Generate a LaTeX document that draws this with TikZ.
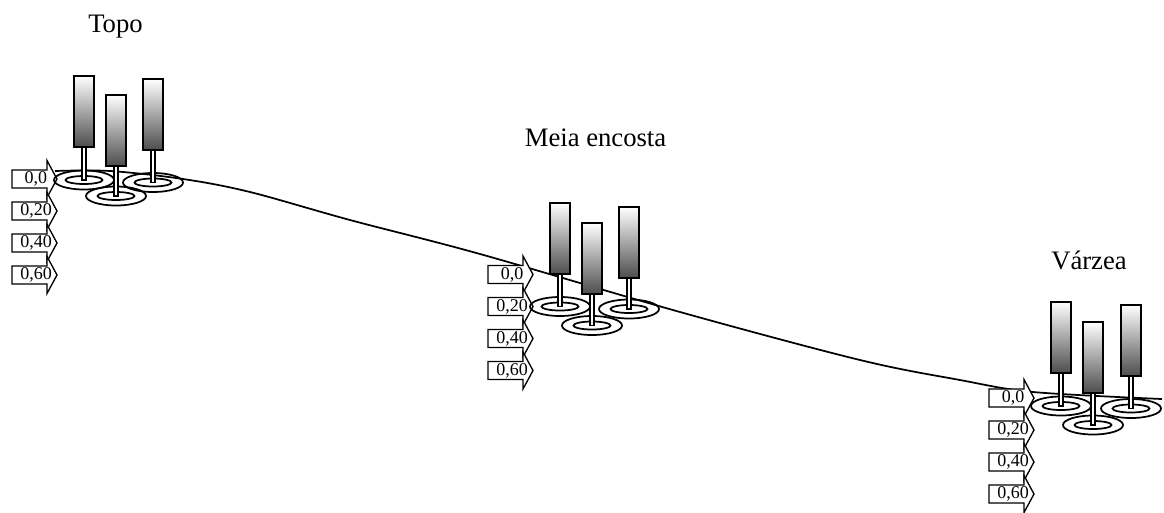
\documentclass[tikz,border=0pt]{standalone}
\usepackage{fontspec}
\setmainfont{Liberation Serif}

\tikzset{
	hillside/.style={line width=1.3pt},
	ring/.style={draw, line width=1.3pt},
	stem/.style={draw, fill=white, line width=1pt},
	tube/.style={draw, line width=1.3pt, top color=white, bottom color=black!70},
	depthtag/.style={draw, fill=white, line width=1pt},
	tagtext/.style={font=\fontsize{13.5}{15}\selectfont, inner sep=0pt},
	site/.style={font=\fontsize{20}{24}\selectfont, anchor=base},
}

\begin{document}
\begin{tikzpicture}[x=0.75pt, y=-0.75pt]
	\useasboundingbox (0, 0) rectangle (1164, 512);
	
	% slope profile
	\draw[hillside] plot[smooth, tension=0.55] coordinates {
		(55, 171) (110, 171) (183, 179) (250, 192) (350, 220) (480, 254)
		(680, 312) (860, 360) (960, 380) (1033, 392) (1162, 399)};
	
	% depth tags on the left of each site
	\foreach \ax/\ay in {12/179, 488/274.5, 989/398}
	\foreach \d [count=\k from 0] in {0, 20, 40, 60} {
		\draw[depthtag] (\ax, \ay+32*\k-9) -- (\ax+35, \ay+32*\k-9)
			-- (\ax+35, \ay+32*\k-18.5) -- (\ax+45, \ay+32*\k)
			-- (\ax+35, \ay+32*\k+18.5) -- (\ax+35, \ay+32*\k+9)
			-- (\ax, \ay+32*\k+9) -- cycle;
		\node[tagtext] (tag-\ax-\d) at (\ax+24, \ay+32*\k) {0,\d};
	}
	
	% rings round each tube
	\foreach \tx/\ty/\ey in {84/76/180, 116/95/196, 153/79/182.5,
		560/203/306.5, 592/223/325.5, 629/207/309,
		1061/302/406, 1093/322/425, 1131/305/408.5} {
		\draw[ring] (\tx, \ey) ellipse (30 and 9.5);
		\draw[ring] (\tx, \ey) ellipse (18.5 and 4);
	}
	
	% tubes and stems
	\foreach \tx/\ty/\ey in {84/76/180, 116/95/196, 153/79/182.5,
		560/203/306.5, 592/223/325.5, 629/207/309,
		1061/302/406, 1093/322/425, 1131/305/408.5} {
		\draw[stem] (\tx-2, \ty+71) rectangle (\tx+2, \ey);
		\draw[tube] (\tx-10, \ty) rectangle (\tx+10, \ty+71);
	}
	
	\node[site] (topo) at (115.5, 32) {Topo};
	\node[site] (meia) at (595.5, 146) {Meia encosta};
	\node[site] (varzea) at (1089, 269.3) {Várzea};
\end{tikzpicture}
\end{document}
